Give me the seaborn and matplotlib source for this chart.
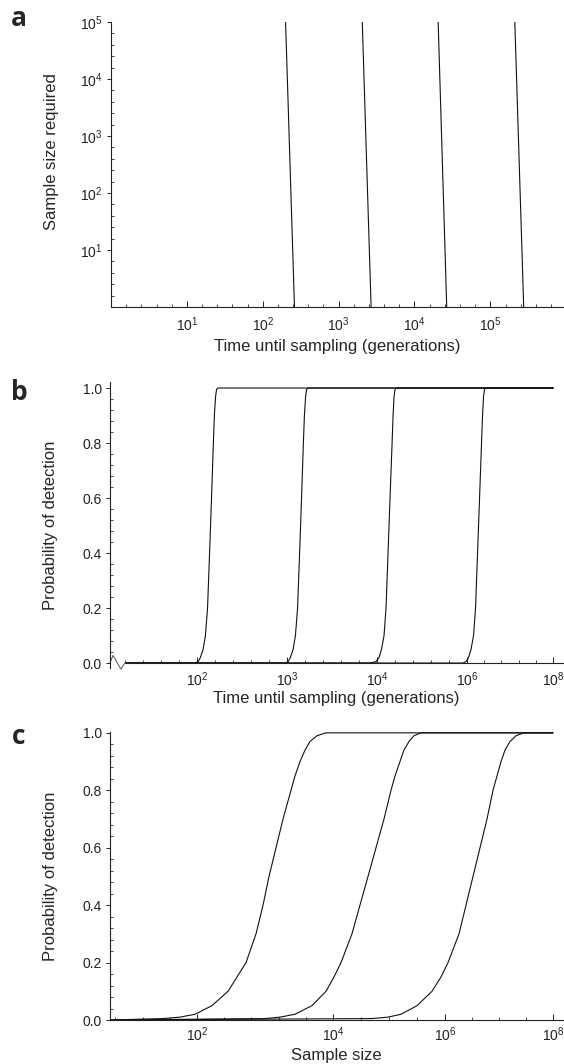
import numpy as np
import matplotlib
matplotlib.use('Agg')
import matplotlib.pyplot as plt
import pandas as pd
import seaborn as sns

# ---- panel a: sample size required vs time until sampling (log-log) ----
a_size = [1e5, 1]
a_time_1 = [200, 262]
a_time_2 = [2050, 2680]
a_time_3 = [20500, 26600]
a_time_4 = [210000, 275000]
a_ticks = [1e1, 1e2, 1e3, 1e4, 1e5]
a_ticklabels = ['$10^{1}$', '$10^{2}$', '$10^{3}$', '$10^{4}$', '$10^{5}$']

# ---- panel b: probability of detection vs time until sampling ----
b_prob = [0, 0, 0.005, 0.02, 0.05, 0.1, 0.2, 0.4, 0.6, 0.8, 0.9, 0.97, 0.995, 1.0, 1.0]
b_time_1 = [16.3, 95, 103, 109, 117, 124, 131, 138, 145, 152, 156, 161, 165, 171, 1e8]
b_time_2 = [16.3, 950, 1030, 1090, 1170, 1240, 1310, 1380, 1450, 1520, 1560, 1610, 1650,
            1710, 1e8]
b_time_3 = [16.3, 8360, 9740, 11080, 12580, 14310, 15840, 17560, 19450, 21600, 22700,
            23900, 25100, 27100, 1e8]
b_time_4 = [16.3, 8.07e5, 9.47e5, 1.083e6, 1.238e6, 1.416e6, 1.575e6, 1.755e6, 1.953e6,
            2.17e6, 2.29e6, 2.42e6, 2.55e6, 2.77e6, 1e8]
b_ticks = [1e2, 1e3, 1e4, 1e6, 1e8]
b_ticklabels = ['$10^{2}$', '$10^{3}$', '$10^{4}$', '$10^{6}$', '$10^{8}$']

# ---- panel c: probability of detection vs sample size ----
c_prob = [0, 0.005, 0.01, 0.02, 0.05, 0.1, 0.15, 0.2, 0.3, 0.4, 0.5, 0.6, 0.7, 0.8,
          0.85, 0.9, 0.94, 0.97, 0.99, 1.0, 1.0]
c_size_1 = [5.25, 31.6, 56.2, 93.5, 166, 286, 388, 526, 738, 935, 1145, 1452, 1841, 2411,
            2761, 3273, 3874, 4591, 5821, 7889, 1e8]
c_size_2 = [5.25, 1000, 1663, 2761, 4911, 7889, 10420, 13900, 21800, 30300, 42200, 58600,
            81400, 108600, 128000, 157000, 185000, 228000, 279000, 373000, 1e8]
c_size_3 = [5.25, 49700, 95900, 163700, 316000, 586000, 849000, 1.137e6, 1.816e6, 2.448e6,
            3.30e6, 4.45e6, 6.0e6, 7.74e6, 9.18e6, 1.09e7, 1.29e7, 1.60e7, 2.07e7, 2.90e7,
            1e8]
c_ticks = [1e2, 1e4, 1e6, 1e8]
c_ticklabels = ['$10^{2}$', '$10^{4}$', '$10^{6}$', '$10^{8}$']

prob_ticks = [0.0, 0.2, 0.4, 0.6, 0.8, 1.0]
prob_ticklabels = ['0.0', '0.2', '0.4', '0.6', '0.8', '1.0']

sns.set_style('ticks')
plt.rcParams['font.family'] = ['Liberation Sans', 'DejaVu Sans']
plt.rcParams['mathtext.fontset'] = 'custom'
plt.rcParams['mathtext.rm'] = 'Liberation Sans'
plt.rcParams['mathtext.default'] = 'rm'


def long_frame(xs, ys, xname, yname):
    parts = [pd.DataFrame({xname: x, yname: ys, 'curve': i}) for i, x in enumerate(xs)]
    return pd.concat(parts, ignore_index=True)


def broken_scale(knots_log, knots_pos):
    # piecewise log axis (the original figure compresses the upper decades)
    def fwd(v):
        v = np.clip(np.asarray(v, dtype=float), 1e-300, None)
        return np.interp(np.log10(v), knots_log, knots_pos)

    def inv(p):
        return 10 ** np.interp(p, knots_pos, knots_log)
    return fwd, inv


def style_axes(ax, xpad=6):
    for side in ['top', 'right']:
        ax.spines[side].set_visible(False)
    for side in ['left', 'bottom']:
        ax.spines[side].set_linewidth(0.8)
        ax.spines[side].set_color('#222222')
    ax.tick_params(axis='x', which='major', direction='in', length=4, width=0.7,
                   pad=xpad, labelsize=10, colors='#222222')
    ax.tick_params(axis='x', which='minor', direction='in', length=2.5, width=0.6)
    ax.tick_params(axis='y', which='major', direction='out', length=3, width=0.7,
                   pad=3, labelsize=10, colors='#222222')
    ax.tick_params(axis='y', which='minor', direction='in', length=2, width=0.6)


fig = plt.figure(figsize=(5.64, 10.64), dpi=100)
ax_a = fig.add_axes([0.1968, 0.7115, 0.8014, 0.2679])
ax_b = fig.add_axes([0.1950, 0.3722, 0.8032, 0.2688])
ax_c = fig.add_axes([0.1950, 0.04135, 0.8032, 0.2707])

line_kw = dict(estimator=None, units='curve', sort=False, color='#111111',
               linewidth=0.8, legend=False)

# panel a
ax_a.set(xscale='log', yscale='log')
dfa = long_frame([a_time_1, a_time_2, a_time_3, a_time_4], a_size, 'time', 'size')
sns.lineplot(data=dfa, x='time', y='size', ax=ax_a, **line_kw)
ax_a.set_xlim(1, 9.06e5)
ax_a.set_ylim(1, 1e5)
ax_a.set_xticks(a_ticks, a_ticklabels)
ax_a.set_yticks(a_ticks, a_ticklabels)
ax_a.set_xticks([10 ** (k * 0.2) for k in range(1, 30) if k % 5], minor=True)
ax_a.set_yticks([10 ** (k * 0.2) for k in range(1, 25) if k % 5], minor=True)
ax_a.set_xlabel('Time until sampling (generations)', fontsize=12)
ax_a.set_ylabel('Sample size required', fontsize=12)
style_axes(ax_a)

# panel b
dfb = long_frame([b_time_1, b_time_2, b_time_3, b_time_4], b_prob, 'time', 'prob')
sns.lineplot(data=dfb, x='time', y='prob', ax=ax_b, **line_kw)
fwd_b, inv_b = broken_scale([-2, 1, 2, 3, 4, 6, 8, 12],
                            [-163, 107, 197, 287, 377, 467, 553, 725])
ax_b.set_xscale('function', functions=(fwd_b, inv_b))
ax_b.set_xlim(10.8, 1.7e8)
ax_b.set_ylim(-0.018, 1.022)
ax_b.set_xticks(b_ticks, b_ticklabels)
b_minor = np.concatenate([np.arange(1.2, 2.0, 0.2), np.arange(2.2, 4.0, 0.2),
                          np.arange(4.4, 6.0, 0.4), np.arange(6.4, 8.0, 0.4)])
ax_b.set_xticks(10 ** b_minor, minor=True)
ax_b.set_yticks(prob_ticks, prob_ticklabels)
ax_b.set_yticks([k * 0.04 for k in range(26) if k % 5], minor=True)
ax_b.spines['bottom'].set_position(('data', 0))
ax_b.spines['bottom'].set_bounds(16.3, 1.7e8)
ax_b.set_xlabel('Time until sampling (generations)', fontsize=12)
ax_b.set_ylabel('Probability of detection', fontsize=12)
style_axes(ax_b, xpad=5)
# axis break mark
ax_b.plot([0.0, 0.0066, 0.024, 0.033], [0.0, 0.028, -0.022, 0.0],
          transform=ax_b.get_yaxis_transform(), color='#555555', lw=0.7, clip_on=False)

# panel c
dfc = long_frame([c_size_1, c_size_2, c_size_3], c_prob, 'size', 'prob')
sns.lineplot(data=dfc, x='size', y='prob', ax=ax_c, **line_kw)
fwd_c, inv_c = broken_scale([-2, 0, 2, 4, 6, 8, 12],
                            [-75, 61, 197, 333, 445, 553, 769])
ax_c.set_xscale('function', functions=(fwd_c, inv_c))
ax_c.set_xlim(5.25, 1.53e8)
ax_c.set_ylim(0, 1.003)
ax_c.set_xticks(c_ticks, c_ticklabels)
c_minor = np.concatenate([np.arange(0.8, 2.0, 0.4), np.arange(2.4, 4.0, 0.4),
                          np.arange(4.5, 6.0, 0.5), np.arange(6.5, 8.0, 0.5)])
ax_c.set_xticks(10 ** c_minor, minor=True)
ax_c.set_yticks(prob_ticks, prob_ticklabels)
ax_c.set_yticks([k * 0.04 for k in range(26) if k % 5], minor=True)
ax_c.set_xlabel('Sample size', fontsize=12)
ax_c.set_ylabel('Probability of detection', fontsize=12)
style_axes(ax_c, xpad=4)

ax_a.yaxis.set_label_coords(-0.115, 0.544)
ax_b.yaxis.set_label_coords(-0.115, 0.5)
ax_c.yaxis.set_label_coords(-0.115, 0.5)
ax_a.xaxis.set_label_coords(0.5, -0.112)
ax_b.xaxis.set_label_coords(0.5, -0.082)
ax_c.xaxis.set_label_coords(0.5, -0.098)

for letter, y in [('a', 1 - 19 / 1064), ('b', 1 - 393 / 1064), ('c', 1 - 737 / 1064)]:
    fig.text(19 / 564, y, letter, fontsize=19, fontweight='bold',
             family=['Open Sans', 'DejaVu Sans'], ha='center', va='center')

fig.savefig('out.png', dpi=100)
